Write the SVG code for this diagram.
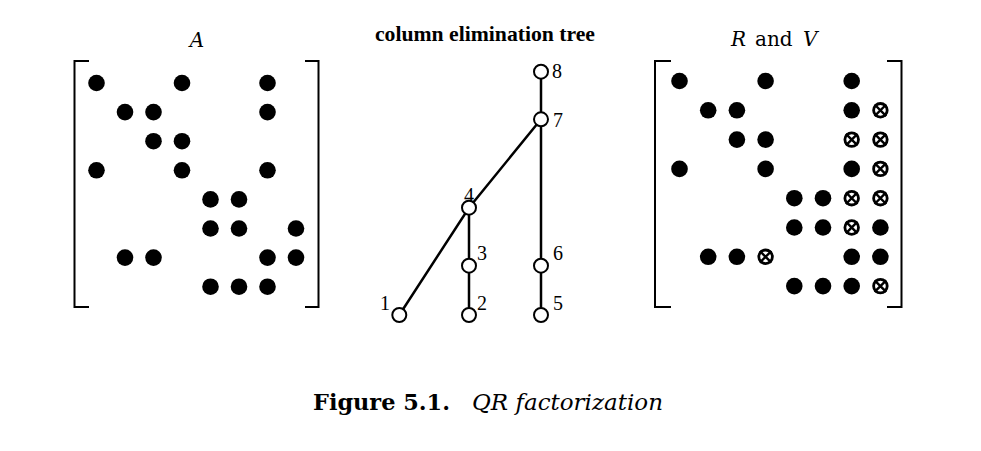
<svg xmlns="http://www.w3.org/2000/svg" xmlns:xlink="http://www.w3.org/1999/xlink" width="981" height="451" viewBox="0 0 981 451">
<style>
.dot circle{fill:#000}
.br{fill:none;stroke:#000;stroke-width:2}
.edge{fill:none;stroke:#000;stroke-width:2.5}
.node{fill:#fff;stroke:#000;stroke-width:2}
.lbl{font-family:"Liberation Serif",serif;font-size:20px;fill:#000}
.ttl{font-family:"Liberation Serif",serif;font-size:21.5px;font-weight:bold;fill:#000}
.mat{font-family:"DejaVu Serif","Liberation Serif",serif;font-size:20px;fill:#000}
</style>
<defs>
<g id="cx">
<circle r="6.8" fill="none" stroke="#000" stroke-width="2.8"/>
<path d="M-5.8,-5.8L5.8,5.8M-5.8,5.8L5.8,-5.8" stroke="#000" stroke-width="2.4"/>
</g>
</defs>
<rect width="981" height="451" fill="#fff"/>

<!-- Matrix A -->
<g id="matrixA">
<text class="mat" x="197" y="47" text-anchor="middle" font-style="italic">A</text>
<path class="br" d="M89,61H74.5V307H89"/>
<path class="br" d="M305,61H318.5V307H305"/>
<g class="dot">
<circle cx="96.5" cy="83" r="8.3"/><circle cx="182" cy="83" r="8.3"/><circle cx="267.5" cy="83" r="8.3"/>
<circle cx="125" cy="112.1" r="8.3"/><circle cx="153.5" cy="112.1" r="8.3"/><circle cx="267.5" cy="112.1" r="8.3"/>
<circle cx="153.5" cy="141.2" r="8.3"/><circle cx="182" cy="141.2" r="8.3"/>
<circle cx="96.5" cy="170.3" r="8.3"/><circle cx="182" cy="170.3" r="8.3"/><circle cx="267.5" cy="170.3" r="8.3"/>
<circle cx="210.5" cy="199.4" r="8.3"/><circle cx="239" cy="199.4" r="8.3"/>
<circle cx="210.5" cy="228.5" r="8.3"/><circle cx="239" cy="228.5" r="8.3"/><circle cx="296" cy="228.5" r="8.3"/>
<circle cx="125" cy="257.6" r="8.3"/><circle cx="153.5" cy="257.6" r="8.3"/><circle cx="267.5" cy="257.6" r="8.3"/><circle cx="296" cy="257.6" r="8.3"/>
<circle cx="210.5" cy="286.7" r="8.3"/><circle cx="239" cy="286.7" r="8.3"/><circle cx="267.5" cy="286.7" r="8.3"/>
</g>
</g>

<!-- Tree -->
<text class="ttl" x="375" y="41" textLength="220" lengthAdjust="spacingAndGlyphs">column elimination tree</text>
<g id="connectors">
<path class="edge" d="M399.3,315L469,207.7L541,119.3"/>
<path class="edge" d="M541,71.7V315"/>
<path class="edge" d="M469,207.7V315"/>
</g>
<g id="n8"><circle class="node" cx="541" cy="71.7" r="7"/><text class="lbl" x="552" y="78">8</text></g>
<g id="n7"><circle class="node" cx="541" cy="119.3" r="7"/><text class="lbl" x="553" y="127">7</text></g>
<g id="n4"><circle class="node" cx="469" cy="207.7" r="7"/><text class="lbl" x="469" y="202" text-anchor="middle">4</text></g>
<g id="n3"><circle class="node" cx="469" cy="265.7" r="7"/><text class="lbl" x="477" y="260">3</text></g>
<g id="n2"><circle class="node" cx="469" cy="315" r="7"/><text class="lbl" x="477" y="310">2</text></g>
<g id="n1"><circle class="node" cx="399.3" cy="315" r="7"/><text class="lbl" x="380" y="310">1</text></g>
<g id="n6"><circle class="node" cx="541" cy="265.7" r="7"/><text class="lbl" x="553" y="260">6</text></g>
<g id="n5"><circle class="node" cx="541" cy="315" r="7"/><text class="lbl" x="553" y="310">5</text></g>

<!-- Matrix R and V -->
<g id="matrixRV">
<text class="mat" y="46"><tspan x="731" font-style="italic">R</tspan><tspan x="755">and</tspan><tspan x="803" font-style="italic">V</tspan></text>
<path class="br" d="M671,61H655V307H671"/>
<path class="br" d="M887,61H901.5V307H887"/>
<g class="dot">
<circle cx="679.5" cy="81" r="8.3"/><circle cx="765.6" cy="81" r="8.3"/><circle cx="851.7" cy="81" r="8.3"/>
<circle cx="708.2" cy="110.3" r="8.3"/><circle cx="736.9" cy="110.3" r="8.3"/><circle cx="851.7" cy="110.3" r="8.3"/>
<circle cx="736.9" cy="139.6" r="8.3"/><circle cx="765.6" cy="139.6" r="8.3"/>
<circle cx="679.5" cy="168.9" r="8.3"/><circle cx="765.6" cy="168.9" r="8.3"/><circle cx="851.7" cy="168.9" r="8.3"/>
<circle cx="794.3" cy="198.2" r="8.3"/><circle cx="823" cy="198.2" r="8.3"/>
<circle cx="794.3" cy="227.5" r="8.3"/><circle cx="823" cy="227.5" r="8.3"/><circle cx="880.4" cy="227.5" r="8.3"/>
<circle cx="708.2" cy="256.8" r="8.3"/><circle cx="736.9" cy="256.8" r="8.3"/><circle cx="851.7" cy="256.8" r="8.3"/><circle cx="880.4" cy="256.8" r="8.3"/>
<circle cx="794.3" cy="286.1" r="8.3"/><circle cx="823" cy="286.1" r="8.3"/><circle cx="851.7" cy="286.1" r="8.3"/>
</g>
<use xlink:href="#cx" x="880.4" y="110.3"/>
<use xlink:href="#cx" x="851.7" y="139.6"/><use xlink:href="#cx" x="880.4" y="139.6"/>
<use xlink:href="#cx" x="880.4" y="168.9"/>
<use xlink:href="#cx" x="851.7" y="198.2"/><use xlink:href="#cx" x="880.4" y="198.2"/>
<use xlink:href="#cx" x="851.7" y="227.5"/>
<use xlink:href="#cx" x="765.6" y="256.8"/>
<use xlink:href="#cx" x="880.4" y="286.1"/>
</g>

<!-- Caption -->
<text y="410" font-family="'DejaVu Serif','Liberation Serif',serif" fill="#000"><tspan x="313" font-weight="bold" font-size="21.5" textLength="137" lengthAdjust="spacingAndGlyphs">Figure 5.1.</tspan><tspan x="472" font-style="italic" font-size="23" textLength="191" lengthAdjust="spacingAndGlyphs">QR factorization</tspan></text>
</svg>
